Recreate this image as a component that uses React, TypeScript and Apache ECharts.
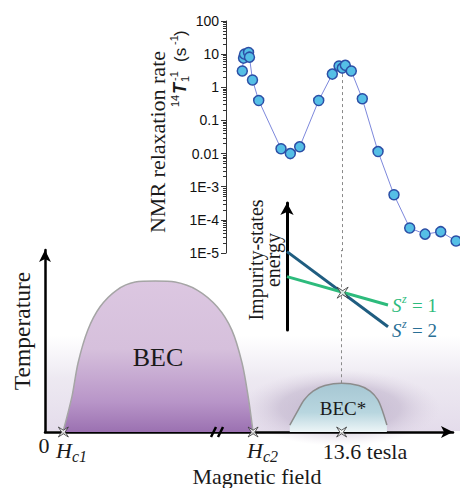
import React, { useEffect, useRef } from "react";
import * as echarts from "echarts";

// ---- Top panel: 14N NMR relaxation rate 1/T1 (s^-1) vs magnetic field (tesla)
const nmrField = [12.138, 12.156, 12.17, 12.229, 12.243, 12.287, 12.378, 12.704, 12.84, 12.977, 13.255, 13.454, 13.552, 13.6, 13.644, 13.731, 13.892, 14.122, 14.355, 14.585, 14.809, 15.038, 15.262];
const nmrRate = [3.1, 7.6, 10, 11.2, 8.1, 1.66, 0.4, 0.014, 0.01, 0.016, 0.4, 2.5, 4.4, 3.8, 4.6, 3.1, 0.45, 0.0115, 5.7e-4, 5.7e-5, 3.7e-5, 4.4e-5, 2.3e-5];
const rateTickLabels = ["1E-5", "1E-4", "1E-3", "0.01", "0.1", "1", "10", "100"];
const peakField = 13.6;

// ---- Bottom panel: schematic phase diagram (field in schematic units, temperature in %)
const becField = [4.4, 6.6, 8.1, 10.5, 13.5, 17.6, 22.1, 27.0, 31.9, 37.3, 42.2, 45.8, 48.3, 49.8, 51.0];
const becTemp = [0, 19.4, 37.9, 56.0, 68.8, 78.0, 82.4, 83.0, 82.4, 78.0, 68.8, 56.0, 37.9, 19.4, 0];
const becStarField = [60.0, 61.8, 63.5, 65.7, 68.6, 72.7, 76.9, 79.7, 81.6, 82.8, 83.8];
const becStarTemp = [3.8, 11.0, 17.6, 22.5, 25.5, 26.8, 25.5, 22.5, 17.6, 11.0, 3.8];
const criticalField = [4.5, 51.0, 72.7];
const fieldTickLabels = ["0", "H", "c1", "H", "c2", "13.6 tesla"];

// ---- Inset: impurity-state energies
const insetField = [0, 100];
const energySz1 = [42.0, 19.7];
const energySz2 = [61.7, 2.6];
const crossing = [55.1, 29.4];

const serif = '"Liberation Serif", "Times New Roman", serif';
const sans = '"Liberation Sans", Arial, sans-serif';
const STAR = "path://M0,0 L5,3.2 L10,0 L6.8,5 L10,10 L5,6.8 L0,10 L3.2,5 Z";

function txt(text: string, x: number, y: number, size: number, o: any = {}) {
  const align = o.align || "center";
  return {
    type: "text",
    z: 50,
    x,
    y,
    rotation: o.rotation || 0,
    style: {
      text,
      fontSize: size,
      fontFamily: o.family || serif,
      fontStyle: o.italic ? "italic" : "normal",
      fontWeight: o.bold ? "bold" : "normal",
      fill: o.color || "#1a1a1a",
      align,
      verticalAlign: "middle",
      textAlign: align,
      textVerticalAlign: "middle",
      lineHeight: o.lineHeight,
    },
  };
}

export default function App() {
  const ref = useRef<HTMLDivElement>(null);
  useEffect(() => {
    if (!ref.current) return;
    const chart = echarts.init(ref.current, undefined, { renderer: "svg" });
    const zip = (a: number[], b: number[]) => a.map((v, i) => [v, b[i]]);

    const hiddenValue = (gridIndex: number, min: number, max: number) => ({
      gridIndex, type: "value", min, max, show: false,
    });
    const arrowAxis = (gridIndex: number, width: number, size: number[]) => ({
      gridIndex,
      type: "value",
      min: 0,
      max: 100,
      axisLine: {
        show: true,
        onZero: false,
        symbol: ["none", "arrow"],
        symbolSize: size,
        lineStyle: { color: "#000", width },
      },
      axisTick: { show: false },
      axisLabel: { show: false },
      splitLine: { show: false },
    });

    const option: any = {
      animation: false,
      backgroundColor: "#ffffff",
      grid: [
        { left: 226, top: 21, width: 234, height: 232, outerBoundsMode: "none" },
        { left: 45, top: 250, width: 408, height: 182, outerBoundsMode: "none" },
        { left: 287, top: 203, width: 101, height: 127, outerBoundsMode: "none" },
      ],
      xAxis: [
        hiddenValue(0, 11.9, 15.32),
        arrowAxis(1, 2.5, [9, 12]),
        hiddenValue(2, 0, 100),
      ],
      yAxis: [
        {
          gridIndex: 0,
          type: "log",
          logBase: 10,
          min: 1e-5,
          max: 100,
          axisLine: { show: true, onZero: false, lineStyle: { color: "#333", width: 1 } },
          axisTick: { show: true, length: 5, lineStyle: { color: "#333" } },
          minorTick: { show: true, splitNumber: 9, length: 3, lineStyle: { color: "#333" } },
          axisLabel: {
            fontFamily: sans,
            fontSize: 14,
            color: "#111",
            margin: 7,
            formatter: (v: number) => rateTickLabels[Math.round(Math.log10(v)) + 5],
          },
          splitLine: { show: false },
          minorSplitLine: { show: false },
        },
        arrowAxis(1, 2.5, [9, 12]),
        arrowAxis(2, 3, [10, 12]),
      ],
      series: [
        {
          type: "line",
          xAxisIndex: 0,
          yAxisIndex: 0,
          data: zip(nmrField, nmrRate),
          symbol: "circle",
          symbolSize: 10,
          lineStyle: { color: "#7d88dc", width: 1 },
          itemStyle: { color: "#55bfe6", borderColor: "#2c4fa6", borderWidth: 1.5 },
          z: 5,
          markLine: {
            silent: true,
            symbol: ["none", "none"],
            label: { show: false },
            lineStyle: { color: "#8a8a8a", type: [3, 3], width: 1 },
            data: [[{ coord: [peakField, 3.8] }, { coord: [peakField, 1e-5] }]],
          },
        },
        {
          type: "line",
          xAxisIndex: 1,
          yAxisIndex: 1,
          data: zip(becField, becTemp),
          smooth: 0.3,
          symbol: "none",
          lineStyle: { color: "#a5a5a5", width: 1.5 },
          areaStyle: {
            opacity: 1,
            color: new echarts.graphic.LinearGradient(0, 0, 0, 1, [
              { offset: 0, color: "#dcc7e1" },
              { offset: 0.45, color: "#d6c0dc" },
              { offset: 0.8, color: "#b895c8" },
              { offset: 1, color: "#9b71b1" },
            ]),
          },
          z: 2,
        },
        {
          type: "line",
          xAxisIndex: 1,
          yAxisIndex: 1,
          data: zip(becStarField, becStarTemp),
          smooth: 0.3,
          symbol: "none",
          lineStyle: { color: "#8c8c8c", width: 1.5 },
          areaStyle: {
            opacity: 1,
            color: new echarts.graphic.LinearGradient(0, 0, 0, 1, [
              { offset: 0, color: "#a6c7d3" },
              { offset: 0.6, color: "#b8d6df" },
              { offset: 1, color: "#edf5f7" },
            ]),
          },
          z: 2,
          markLine: {
            silent: true,
            symbol: ["none", "none"],
            label: { show: false },
            lineStyle: { color: "#8a8a8a", type: [3, 3], width: 1 },
            data: [[{ coord: [criticalField[2], 26.8] }, { coord: [criticalField[2], 100] }]],
          },
        },
        {
          type: "scatter",
          xAxisIndex: 1,
          yAxisIndex: 1,
          data: criticalField.map((f) => [f, 0]),
          symbol: STAR,
          symbolSize: 10,
          itemStyle: { color: "#ffffff", borderColor: "#333", borderWidth: 1 },
          z: 6,
        },
        {
          type: "line",
          xAxisIndex: 2,
          yAxisIndex: 2,
          data: zip(insetField, energySz2),
          symbol: "none",
          lineStyle: { color: "#1f5d80", width: 3 },
          z: 3,
        },
        {
          type: "line",
          xAxisIndex: 2,
          yAxisIndex: 2,
          data: zip(insetField, energySz1),
          symbol: "none",
          lineStyle: { color: "#2dbb7c", width: 3 },
          z: 3,
        },
        {
          type: "scatter",
          xAxisIndex: 2,
          yAxisIndex: 2,
          data: [crossing],
          symbol: STAR,
          symbolSize: 11,
          itemStyle: { color: "#ffffff", borderColor: "#333", borderWidth: 1 },
          z: 6,
        },
      ],
      graphic: [
        // haze behind the phase diagram
        {
          type: "rect",
          z: -1,
          shape: { x: 46, y: 335, width: 414, height: 96 },
          style: {
            fill: new echarts.graphic.LinearGradient(0, 0, 0, 1, [
              { offset: 0, color: "rgba(236,232,241,0)" },
              { offset: 0.45, color: "rgba(234,229,239,0.85)" },
              { offset: 1, color: "rgba(228,220,235,1)" },
            ]),
          },
        },
        {
          type: "ellipse",
          z: -1,
          shape: { cx: 340, cy: 408, rx: 100, ry: 38 },
          style: {
            fill: new echarts.graphic.RadialGradient(0.5, 0.5, 0.5, [
              { offset: 0, color: "rgba(175,160,190,0.7)" },
              { offset: 0.6, color: "rgba(185,172,198,0.5)" },
              { offset: 1, color: "rgba(215,205,222,0)" },
            ]),
          },
        },
        // axis break marks
        { type: "line", z: 10, shape: { x1: 211, y1: 437, x2: 216, y2: 427 }, style: { stroke: "#000", lineWidth: 2.5 } },
        { type: "line", z: 10, shape: { x1: 218, y1: 437, x2: 223, y2: 427 }, style: { stroke: "#000", lineWidth: 2.5 } },
        // phase labels
        txt("BEC", 158, 357, 26),
        txt("BEC*", 343, 408, 19),
        // field tick labels
        txt(fieldTickLabels[0], 44, 445, 22),
        txt(fieldTickLabels[1], 56, 450, 22, { italic: true, align: "left" }),
        txt(fieldTickLabels[2], 72, 456, 16, { italic: true, align: "left" }),
        txt(fieldTickLabels[3], 247, 450, 22, { italic: true, align: "left" }),
        txt(fieldTickLabels[4], 263, 456, 16, { italic: true, align: "left" }),
        txt(fieldTickLabels[5], 365, 451, 22),
        // axis titles
        txt("Magnetic field", 257, 476, 22),
        txt("Temperature", 22, 331, 23.5, { rotation: Math.PI / 2 }),
        txt("NMR relaxation rate", 157, 142, 22, { rotation: Math.PI / 2 }),
        {
          type: "group",
          x: 180,
          y: 107,
          rotation: Math.PI / 2,
          z: 50,
          children: [
            txt("14", 0, -5, 11, { family: sans, align: "left" }),
            txt("T", 13, 0, 18, { family: sans, align: "left", italic: true, bold: true }),
            txt("1", 25, 5, 11, { family: sans, align: "left" }),
            txt("-1", 26, -6, 11, { family: sans, align: "left" }),
            txt("(s", 45, 0, 17, { family: sans, align: "left" }),
            txt("-1", 62, -6, 11, { family: sans, align: "left" }),
            txt(")", 71, 0, 17, { family: sans, align: "left" }),
          ],
        },
        // inset labels
        txt("Impurity-states\nenergy", 264, 260, 20, { rotation: Math.PI / 2, lineHeight: 17 }),
        txt("S", 392, 305, 19, { italic: true, align: "left", color: "#2dbb7c" }),
        txt("z", 402, 299, 12, { italic: true, align: "left", color: "#2dbb7c" }),
        txt("= 1", 412, 305, 19, { align: "left", color: "#2dbb7c" }),
        txt("S", 392, 330, 19, { italic: true, align: "left", color: "#2a6f96" }),
        txt("z", 402, 324, 12, { italic: true, align: "left", color: "#2a6f96" }),
        txt("= 2", 412, 330, 19, { align: "left", color: "#2a6f96" }),
      ],
    };
    chart.setOption(option);
    return () => chart.dispose();
  }, []);
  return (
    <div
      ref={ref}
      style={{ position: "fixed", left: 0, top: 0, width: 460, height: 488 }}
    />
  );
}
